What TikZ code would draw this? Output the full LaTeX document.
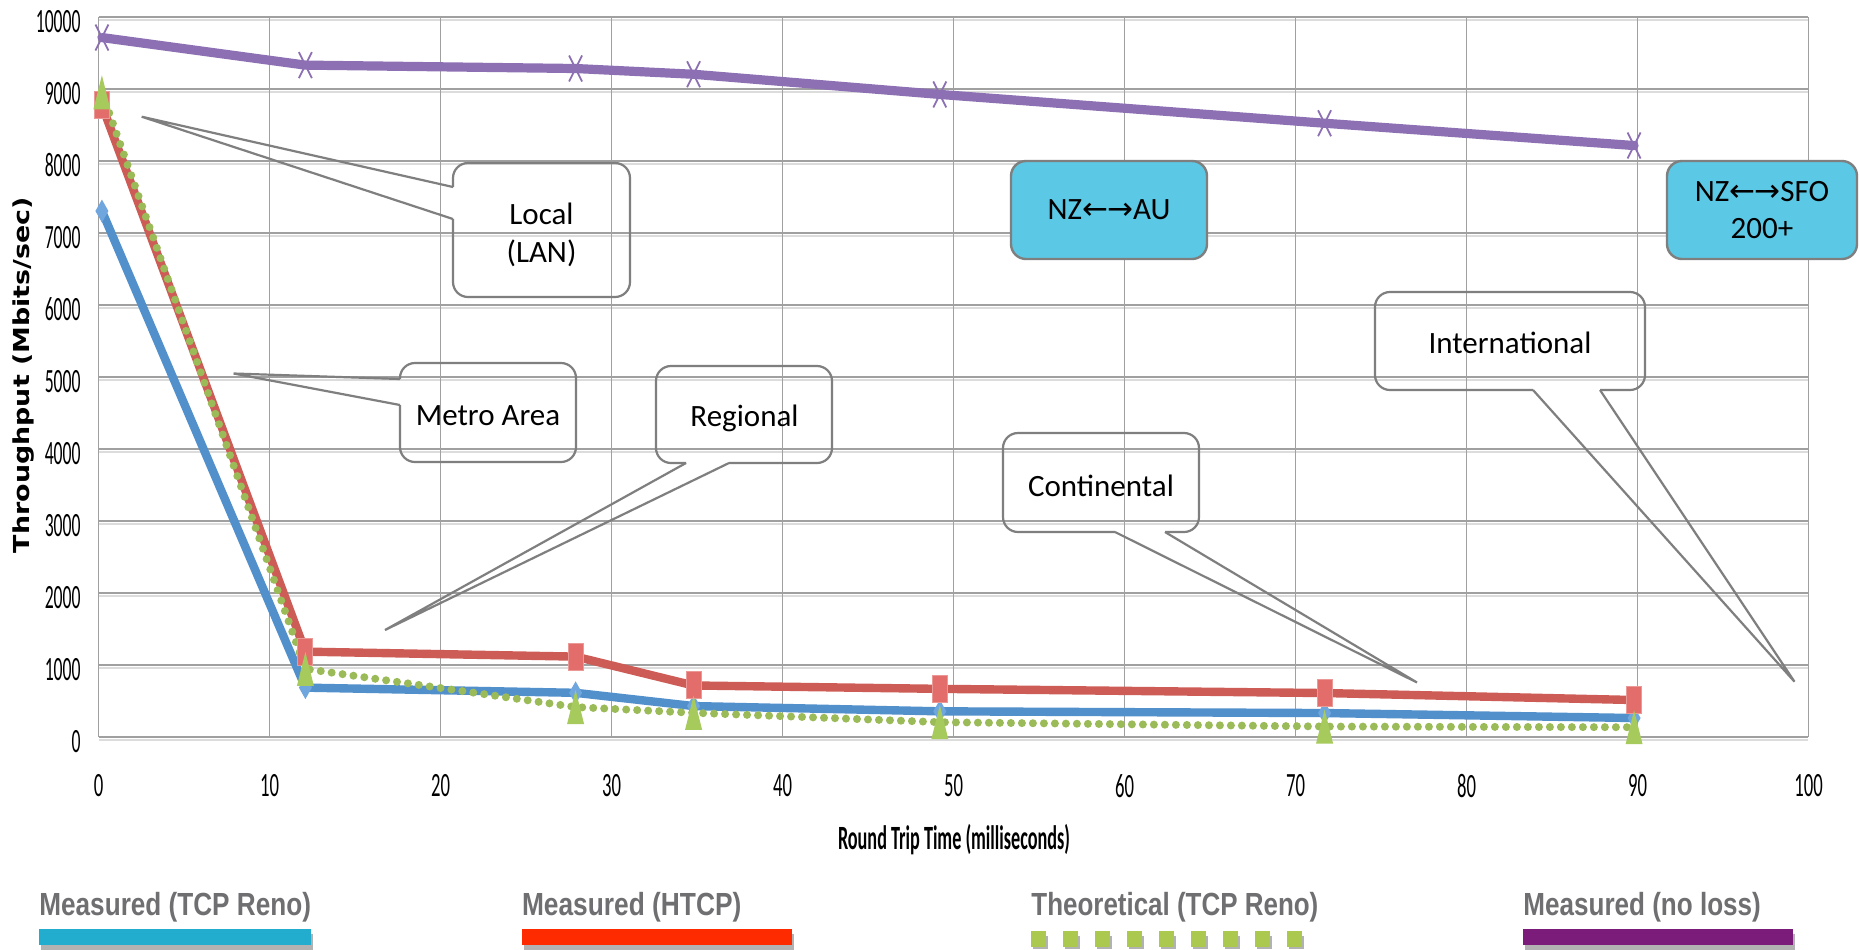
\documentclass[tikz,border=0pt]{standalone}
\usepackage{fontspec}
\usepackage{graphicx}
\setmainfont{Carlito}
\newfontfamily\legendfont{Liberation Sans}
\newfontfamily\titlefont{DejaVu Sans}

\definecolor{gridc}{HTML}{A0A0A0}
\definecolor{gridshade}{HTML}{DCDCDC}
\definecolor{calloutc}{HTML}{7F7F7F}
\definecolor{cyanfill}{HTML}{5BC9E5}
\definecolor{purplec}{HTML}{8C70B3}
\definecolor{redc}{HTML}{CE5C56}
\definecolor{bluec}{HTML}{5290CC}
\definecolor{greenc}{HTML}{9BBB59}
\definecolor{redmark}{HTML}{E36D6A}
\definecolor{bluemark}{HTML}{6FA6DE}
\definecolor{greenmark}{HTML}{A7CA5C}
\definecolor{legblue}{HTML}{22ADCE}
\definecolor{legred}{HTML}{FF2B00}
\definecolor{leggreen}{HTML}{ABC94F}
\definecolor{legpurple}{HTML}{7B1B7A}
\definecolor{leggray}{HTML}{6F6F72}

\newcommand\lrarrows{{\titlefont\char"2190\kern-0.5pt\char"2192}}

\begin{document}
\begin{tikzpicture}[x=0.5pt,y=-0.5pt,
  hgrid/.style={draw=gridc,line width=1.1pt},
  hshade/.style={draw=gridshade,line width=1pt},
  vgrid/.style={draw=gridc,line width=0.75pt},
  series/.style={line width=4.2pt,line join=round,line cap=round},
  callout/.style={draw=calloutc,line width=1.1pt,rounded corners=7.5pt},
  wedge/.style={draw=calloutc,line width=1.1pt},
  calltext/.style={font=\fontsize{15.5}{19}\selectfont,align=center,inner sep=0pt,text=black},
  cyanbox/.style={fill=cyanfill,draw=calloutc,line width=1.2pt,rounded corners=7.5pt,
                  inner sep=0pt,align=center,font=\fontsize{15.5}{18.5}\selectfont},
  tick/.style={inner sep=0pt,font=\fontsize{17}{17}\selectfont},
  legtext/.style={anchor=base west,inner sep=0pt,text=leggray,
                  font=\legendfont\bfseries\fontsize{16}{16}\selectfont},
  legshadow/.style={fill=black!30},
]
\fill[white] (0,0) rectangle (1859,949);
\useasboundingbox (0,0) rectangle (1859,949);

% ---------- grid ----------
\foreach \k in {0,...,10} {
  \pgfmathsetmacro\yy{737.3-72*\k}
  \draw[hshade] (98.5,\yy+2.2) -- (1808,\yy+2.2);
}
\foreach \k in {0,...,10} {
  \pgfmathsetmacro\xx{98.5+171*\k}
  \draw[vgrid] (\xx,17.3) -- (\xx,737.3);
}
\foreach \k in {0,...,10} {
  \pgfmathsetmacro\yy{737.3-72*\k}
  \draw[hgrid] (98.5,\yy) -- (1808,\yy);
}

% ---------- tick labels ----------
\foreach \k in {0,...,10} {
  \pgfmathsetmacro\yy{737.3-72*\k}
  \pgfmathtruncatemacro\lab{1000*\k}
  \node[tick,anchor=east] (ylab\k) at (81,\yy+4) {\scalebox{0.52}[1]{\lab}};
  \pgfmathsetmacro\xx{98.5+171*\k}
  \pgfmathtruncatemacro\labx{10*\k}
  \node[tick] (xlab\k) at (\xx,786) {\scalebox{0.55}[1]{\labx}};
}

% ---------- axis titles ----------
\node[anchor=base,inner sep=0pt,font=\bfseries\fontsize{17}{17}\selectfont] (xtitle)
  at (954,849.3) {\resizebox{116pt}{\height}{Round Trip Time (milliseconds)}};
\node[rotate=90,inner sep=0pt,font=\titlefont\bfseries\fontsize{11}{11}\selectfont] (ytitle)
  at (24,375) {\resizebox{178pt}{\height}{Throughput (Mbits/sec)}};

% ---------- data series ----------
\begin{scope}[shift={(98.5,737.3)},x=8.55pt,y=0.036pt]
  \foreach \i/\a/\b in {1/0.2/7310,2/12.1/690,3/27.9/618,4/34.8/434,5/49.2/361,6/71.7/337,7/89.8/268}
    \coordinate (b\i) at (\a,\b);
  \foreach \i/\a/\b in {1/0.2/8780,2/12.1/1190,3/27.9/1121,4/34.8/720,5/49.2/673,6/71.7/615,7/89.8/518}
    \coordinate (r\i) at (\a,\b);
  \foreach \i/\a/\b in {1/0.2/8960,2/12.1/950,3/27.9/420,4/34.8/340,5/49.2/210,6/71.7/150,7/89.8/140}
    \coordinate (g\i) at (\a,\b);
  \foreach \i/\a/\b in {1/0.2/9720,2/12.1/9337,3/27.9/9290,4/34.8/9210,5/49.2/8930,6/71.7/8530,7/89.8/8220}
    \coordinate (p\i) at (\a,\b);

  \draw[series,bluec] (b1) \foreach \i in {2,...,7}{ -- (b\i)};
  \draw[series,redc] (r1) \foreach \i in {2,...,7}{ -- (r\i)};
  \draw[greenc,line width=4pt,line cap=round,dash pattern=on 0pt off 5.5pt]
    (g1) \foreach \i in {2,...,7}{ -- (g\i)};
  \draw[series,purplec,line width=4.6pt] (p1) \foreach \i in {2,...,7}{ -- (p\i)};

  \foreach \i in {1,...,7} {
    \fill[bluemark] (b\i) +(0pt,5.75pt) -- +(3.25pt,0pt) -- +(0pt,-5.75pt) -- +(-3.25pt,0pt) -- cycle;
  }
  \foreach \i in {1,...,7} {
    \filldraw[fill=redmark,draw=redmark!70!white,line width=0.5pt]
      (r\i) +(-3.75pt,-6.75pt) rectangle +(3.75pt,6.75pt);
  }
  \foreach \i in {1,...,7} {
    \fill[greenmark] (g\i) +(0pt,8.5pt) -- +(4.25pt,-8.5pt) -- +(-4.25pt,-8.5pt) -- cycle;
  }
  \foreach \i in {1,...,7} {
    \draw[purplec,line width=0.9pt] (p\i) +(-3.25pt,-6.5pt) -- +(3.25pt,6.5pt)
                                     (p\i) +(-3.25pt,6.5pt) -- +(3.25pt,-6.5pt);
  }
\end{scope}

% ---------- callouts ----------
\coordinate (localtip) at (141.7,116.7);
\coordinate (localw1) at (453,187);
\coordinate (localw2) at (453,219);
\draw[callout] (localw1) -- (453,163) -- (630,163) -- (630,297) -- (453,297) -- (localw2);
\draw[wedge] (localw1) -- (localtip) -- (localw2);
\node[calltext] (local) at (541.5,235) {Local\\(LAN)};

\coordinate (metrotip) at (233.6,373.5);
\coordinate (metrow1) at (400,379);
\coordinate (metrow2) at (400,405);
\draw[callout] (metrow1) -- (400,363) -- (576,363) -- (576,462) -- (400,462) -- (metrow2);
\draw[wedge] (metrow1) -- (metrotip) -- (metrow2);
\node[calltext,anchor=base] (metro) at (488,425) {Metro Area};

\coordinate (regtip) at (385,630);
\coordinate (regw1) at (686,463);
\coordinate (regw2) at (729,463);
\draw[callout] (regw1) -- (656,463) -- (656,366) -- (832,366) -- (832,463) -- (regw2);
\draw[wedge] (regw1) -- (regtip) -- (regw2);
\node[calltext,anchor=base] (regional) at (744.5,426.7) {Regional};

\coordinate (contip) at (1417,682.5);
\coordinate (conw1) at (1115,532);
\coordinate (conw2) at (1165,532);
\draw[callout] (conw1) -- (1003,532) -- (1003,433) -- (1199,433) -- (1199,532) -- (conw2);
\draw[wedge] (conw1) -- (contip) -- (conw2);
\node[calltext,anchor=base] (continental) at (1101,496) {Continental};

\coordinate (inttip) at (1794.5,681.7);
\coordinate (intw1) at (1533,390);
\coordinate (intw2) at (1600,390);
\draw[callout] (intw1) -- (1375,390) -- (1375,292) -- (1645,292) -- (1645,390) -- (intw2);
\draw[wedge] (intw1) -- (inttip) -- (intw2);
\node[calltext,anchor=base] (international) at (1510,353) {International};

% ---------- route boxes ----------
\node[cyanbox,minimum width=98pt,minimum height=49pt] (nzau) at (1109,210)
  {NZ\lrarrows AU};
\node[cyanbox,minimum width=95pt,minimum height=49pt] (nzsfo) at (1762,210)
  {NZ\lrarrows SFO\\200+};

% ---------- legend ----------
\node[legtext] (leg1) at (39,915) {\resizebox{135.8pt}{\height}{Measured (TCP Reno)}};
\node[legtext] (leg2) at (521.6,915) {\resizebox{109.7pt}{\height}{Measured (HTCP)}};
\node[legtext] (leg3) at (1031,915) {\resizebox{143.5pt}{\height}{Theoretical (TCP Reno)}};
\node[legtext] (leg4) at (1523,915) {\resizebox{118.75pt}{\height}{Measured (no loss)}};

\fill[legshadow] (41,934) rectangle (312.6,950);
\fill[legblue] (39,929) rectangle (310.6,945);
\fill[legshadow] (523.6,934) rectangle (794,950);
\fill[legred] (521.6,929) rectangle (792,945);
\foreach \k in {0,...,8} {
  \fill[legshadow] (1033+32*\k,936) rectangle ++(15,13);
  \fill[leggreen] (1031+32*\k,931) rectangle ++(15,16);
}
\fill[legshadow] (1525,934) rectangle (1794.5,950);
\fill[legpurple] (1523,929) rectangle (1792.5,945);
\end{tikzpicture}
\end{document}
